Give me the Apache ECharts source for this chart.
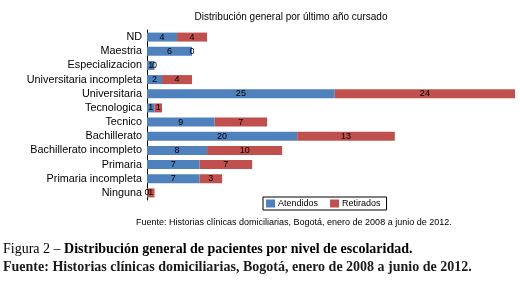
<!DOCTYPE html>
<html>
<head>
<meta charset="utf-8">
<script src="https://cdn.jsdelivr.net/npm/echarts@6/dist/echarts.min.js"></script>
<style>
  html, body { margin: 0; padding: 0; background: #fff; }
  #chart { width: 520px; height: 284px; }
</style>
</head>
<body>
<div id="chart"></div>
<script>
// categorias (de arriba hacia abajo)
const categorias = [
  "ND", "Maestria", "Especializacion", "Universitaria incompleta",
  "Universitaria", "Tecnologica", "Tecnico", "Bachillerato",
  "Bachillerato incompleto", "Primaria", "Primaria incompleta", "Ninguna"
];
const atendidos = [4, 6, 1, 2, 25, 1, 9, 20, 8, 7, 7, 0];
const retirados = [4, 0, 0, 4, 24, 1, 7, 13, 10, 7, 3, 1];

const titulo = "Distribución general por último año cursado";
const fuente = "Fuente: Historias clínicas domiciliarias, Bogotá, enero de 2008 a junio de 2012.";
const figura = "Figura 2 – ";
const figuraTexto = "Distribución general de pacientes por nivel de escolaridad.";

let myChart = echarts.init(document.getElementById("chart"));

const etiqueta = {
  show: true,
  position: "inside",
  color: "#000",
  fontSize: 9,
  fontFamily: "Liberation Sans, Arial"
};

myChart.setOption({
  animation: false,
  color: ["#4F81BD", "#C0504D"],
  title: {
    text: titulo,
    left: 286,
    textAlign: "center",
    top: 7,
    textStyle: {
      fontFamily: "Liberation Sans, Arial",
      fontSize: 10,
      fontWeight: "normal",
      color: "#000"
    }
  },
  legend: {
    left: 263,
    top: 197,
    orient: "horizontal",
    icon: "rect",
    itemWidth: 9,
    itemHeight: 8,
    itemGap: 12,
    padding: [2, 6, 2, 3],
    borderColor: "#000",
    borderWidth: 1,
    textStyle: {
      fontFamily: "Liberation Sans, Arial",
      fontSize: 9,
      color: "#000",
      padding: [0, 0, 0, -2]
    },
    data: ["Atendidos", "Retirados"]
  },
  grid: {
    left: 147,
    top: 30,
    width: 368,
    height: 170
  },
  xAxis: {
    type: "value",
    min: 0,
    max: 49,
    show: false
  },
  yAxis: {
    type: "category",
    inverse: true,
    data: categorias,
    axisLine: { lineStyle: { color: "#000", width: 1 } },
    axisTick: { show: false },
    axisLabel: {
      interval: 0,
      color: "#000",
      fontSize: 10.8,
      margin: 5,
      fontFamily: "Liberation Sans, Arial"
    }
  },
  series: [
    {
      name: "Atendidos",
      type: "bar",
      stack: "total",
      barWidth: 9,
      label: etiqueta,
      data: atendidos
    },
    {
      name: "Retirados",
      type: "bar",
      stack: "total",
      barWidth: 9,
      label: etiqueta,
      data: retirados
    }
  ],
  graphic: [
    {
      type: "text",
      left: 136,
      top: 218,
      style: {
        text: fuente,
        font: "9px Liberation Sans, Arial",
        fill: "#000"
      }
    },
    {
      type: "text",
      left: 3,
      top: 242,
      style: {
        text: "{a|" + figura + "}{b|" + figuraTexto + "}",
        rich: {
          a: { fontFamily: "Liberation Serif", fontSize: 14, color: "#3a6ea5" },
          b: { fontFamily: "Liberation Serif", fontSize: 14, fontWeight: "bold", color: "#1a1a1a" }
        }
      }
    },
    {
      type: "text",
      left: 3,
      top: 260,
      style: {
        text: fuente,
        font: "bold 14px Liberation Serif",
        fill: "#1a1a1a"
      }
    }
  ]
});
</script>
</body>
</html>
